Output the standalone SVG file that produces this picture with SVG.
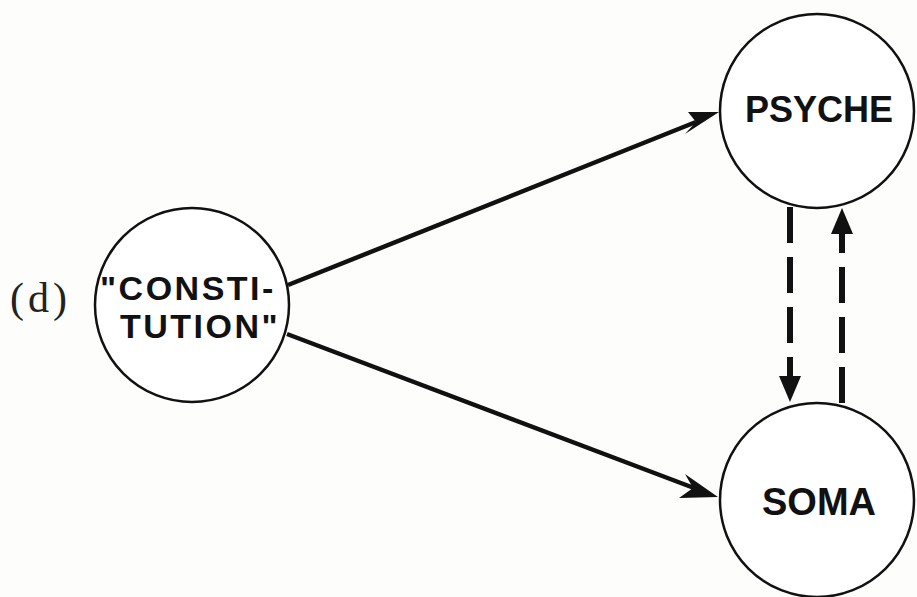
<svg xmlns="http://www.w3.org/2000/svg" width="917" height="597" viewBox="0 0 917 597">
<style>
.node{fill:#fff;stroke:#111;stroke-width:2.5}
.lbl{font-family:"Liberation Sans",Arial,sans-serif;font-weight:bold;fill:#111}
.edge{stroke:#111;stroke-width:4.5;fill:none}
.dash{stroke:#111;stroke-width:6;fill:none;stroke-dasharray:36 14}
</style>
<rect width="917" height="597" fill="#fdfdfb"/>
<text x="10" y="312" font-family="Liberation Serif,serif" font-size="42" letter-spacing="4" fill="#222">(d)</text>
<g id="connectors">
<line class="edge" x1="288" y1="285" x2="696" y2="122"/>
<path d="M719,112 L688,112 L696,122 L685,134 Z" fill="#111"/>
<line class="edge" x1="287" y1="334" x2="694" y2="488"/>
<path d="M718,497 L685,474 L693,488 L679,498 Z" fill="#111"/>
<line class="dash" x1="790" y1="207" x2="790" y2="385"/>
<path d="M790,402 L779,376 L801,376 Z" fill="#111"/>
<line class="dash" x1="842" y1="403" x2="842" y2="228"/>
<path d="M842,208 L831,234 L853,234 Z" fill="#111"/>
</g>
<g id="constitution">
<circle class="node" cx="192" cy="305" r="97"/>
<text class="lbl" x="100" y="300" font-size="34" letter-spacing="2.5">"CONSTI-</text>
<text class="lbl" x="120" y="338" font-size="34" letter-spacing="2.5">TUTION"</text>
</g>
<g id="psyche">
<circle class="node" cx="817" cy="111" r="97"/>
<text class="lbl" x="745" y="122" font-size="36">PSYCHE</text>
</g>
<g id="soma">
<circle class="node" cx="817" cy="500" r="97"/>
<text class="lbl" x="762" y="515" font-size="38">SOMA</text>
</g>
</svg>
